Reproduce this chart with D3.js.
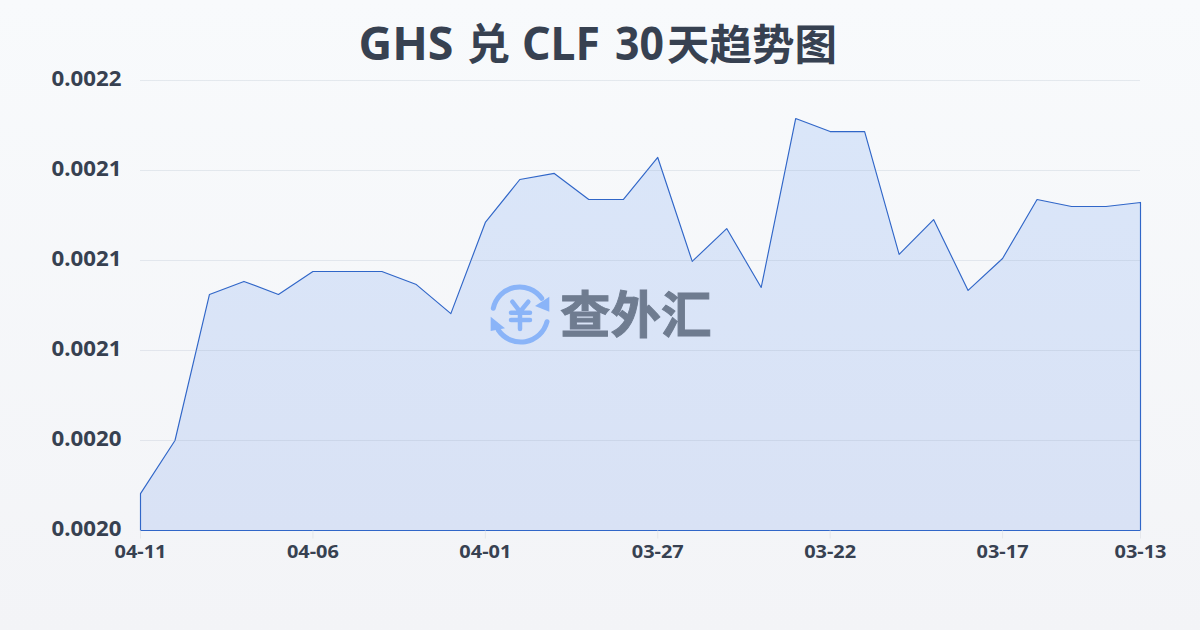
<!DOCTYPE html>
<html><head><meta charset="utf-8">
<script src="https://cdn.jsdelivr.net/npm/d3@7"></script>
<style>html,body{margin:0;padding:0;width:1200px;height:630px;overflow:hidden}svg{display:block}
text{font-family:"Noto Sans","Noto Sans CJK SC",sans-serif}</style></head><body>
<svg id="c" width="1200" height="630"></svg>
<script>
const titleRuns = [
  {t:"GHS", x:358.5, size:46, len:95},
  {t:" ", x:455, size:16},
  {t:"兑", x:467, size:43},
  {t:" ", x:511, size:16},
  {t:"CLF", x:522, size:46, len:78},
  {t:" ", x:601, size:16},
  {t:"30", x:615, size:46, len:49},
  {t:"天趋势图", x:667, size:42.5}
];
const dates = ["04-11","04-10","04-09","04-08","04-07","04-06","04-05","04-04","04-03","04-02","04-01","03-31","03-30","03-29","03-28","03-27","03-26","03-25","03-24","03-23","03-22","03-21","03-20","03-19","03-18","03-17","03-16","03-15","03-14","03-13"];
const rates = [0.0019964,0.00202,0.0020849,0.0020907,0.0020849,0.0020951,0.0020951,0.0020951,0.0020893,0.0020764,0.0021169,0.002136,0.0021387,0.0021271,0.0021271,0.0021458,0.0020996,0.0021142,0.002088,0.0021631,0.0021573,0.0021573,0.0021027,0.0021182,0.0020867,0.0021009,0.0021271,0.002124,0.002124,0.0021258];
const yTicks = [0.00198,0.00202,0.00206,0.0021,0.00214,0.00218];
const xTickLabels = ["04-11","04-06","04-01","03-27","03-22","03-17","03-13"];
const watermark = "查外汇";

const svg = d3.select("#c");
const defs = svg.append("defs");
const bg = defs.append("linearGradient").attr("id","bg").attr("x1",0).attr("y1",0).attr("x2",0).attr("y2",1);
bg.append("stop").attr("offset","0%").attr("stop-color","#f8fafc");
bg.append("stop").attr("offset","100%").attr("stop-color","#f3f4f7");
const ag = defs.append("linearGradient").attr("id","ag").attr("x1",0).attr("y1",0).attr("x2",0).attr("y2",1);
ag.append("stop").attr("offset","0%").attr("stop-color","#dae6f9");
ag.append("stop").attr("offset","100%").attr("stop-color","#d9e2f5");
svg.append("rect").attr("width",1200).attr("height",630).attr("fill","url(#bg)");

const x = d3.scalePoint().domain(dates).range([140,1140]);
const y = d3.scaleLinear().domain([0.00198,0.00218]).range([530,80]);

// area + line
const area = d3.area().x(d=>x(d.d)).y0(y(0.00198)).y1(d=>y(d.v));
const pts = dates.map((d,i)=>({d,v:rates[i]}));
svg.append("path").attr("transform","translate(0.5,0.5)").attr("d",area(pts)).attr("fill","url(#ag)").attr("stroke","#3066c8").attr("stroke-width",1.15).attr("stroke-linejoin","round");

// grid
svg.append("g").selectAll("line").data(yTicks.slice(1)).join("line")
  .attr("x1",140).attr("x2",1140).attr("y1",d=>y(d)+0.5).attr("y2",d=>y(d)+0.5)
  .attr("stroke","#94a3b8").attr("stroke-opacity",0.2).attr("stroke-width",1);

// axes
const yAxis = d3.axisLeft(y).tickValues(yTicks).tickFormat(d3.format(".4f")).tickSize(0).tickPadding(0);
const gy = svg.append("g").attr("transform","translate(121.5,0)").call(yAxis);
gy.select(".domain").remove();
gy.selectAll("text").attr("fill","#374151").style("font-size","20.5px").style("font-weight",700).attr("dy","0.32em").attr("y",-1)
  .attr("textLength",70).attr("lengthAdjust","spacingAndGlyphs");

const xAxis = d3.axisBottom(x).tickValues(xTickLabels).tickSize(8).tickPadding(7);
const gx = svg.append("g").attr("transform","translate(0,530.5)").call(xAxis);
gx.select(".domain").remove();
gx.selectAll("line").attr("stroke","#e5e7eb");
gx.selectAll("text").attr("fill","#374151").style("font-size","18px").style("font-weight",700)
  .attr("textLength",52).attr("lengthAdjust","spacingAndGlyphs");

// title
const ttl = svg.append("text").attr("y",60).attr("fill","#374151").style("font-weight",700);
ttl.selectAll("tspan").data(titleRuns).join("tspan")
  .attr("x",d=>d.x).style("font-size",d=>d.size+"px")
  .attr("textLength",d=>d.len||null).attr("lengthAdjust",d=>d.len?"spacingAndGlyphs":null)
  .text(d=>d.t);

// watermark
const w = svg.append("g");
const blue = "#8ab4f8";
w.append("path").attr("d","M493.3 308.3 A27 27 0 0 1 541.7 298.3").attr("fill","none").attr("stroke",blue).attr("stroke-width",5).attr("stroke-linecap","round");
w.append("path").attr("d","M547 321.7 A27 27 0 0 1 498.3 330").attr("fill","none").attr("stroke",blue).attr("stroke-width",5).attr("stroke-linecap","round");
w.append("path").attr("d","M549.3 296.7 L549.3 311.7 L535 306 Z").attr("fill",blue);
w.append("path").attr("d","M490.7 316.7 L490.7 331 L505 328.3 Z").attr("fill",blue);
w.append("path").attr("d","M512.3 301.7 L520 311.7 L528.3 301.7 M511 312.7 H530 M511 320 H530 M520 311.7 V329").attr("fill","none").attr("stroke",blue).attr("stroke-width",4.5).attr("stroke-linecap","round").attr("stroke-linejoin","round");
w.append("text").attr("x",560).attr("y",333).attr("fill","#6f7c90").attr("stroke","#6f7c90").attr("stroke-width",1).style("font-size","50.5px").style("font-weight",700).style("font-family","'Noto Sans CJK SC'").text(watermark);
</script></body></html>
